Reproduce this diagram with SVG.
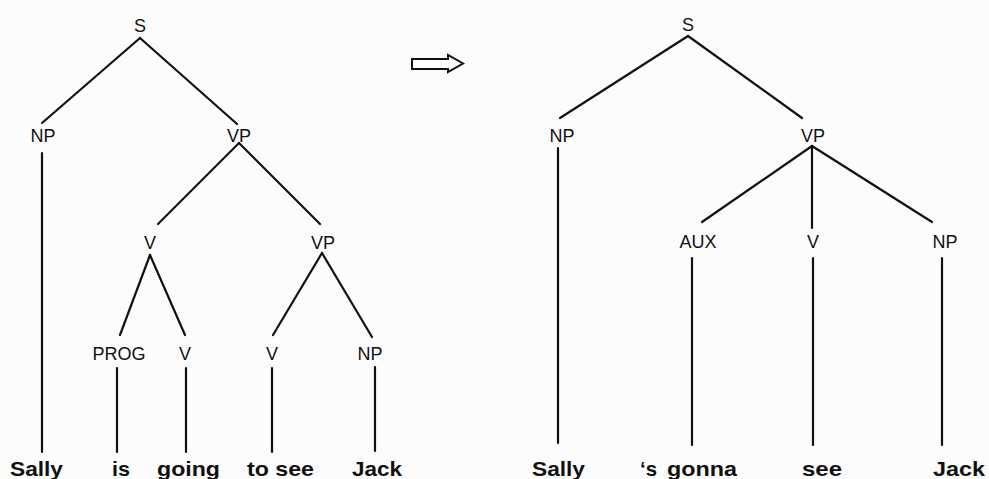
<svg xmlns="http://www.w3.org/2000/svg" width="989" height="479" viewBox="0 0 989 479">
<style>
.lbl{font-family:"Liberation Sans",Arial,sans-serif;font-size:18px;fill:#111;text-anchor:middle}
.wd{font-family:"Liberation Sans",Arial,sans-serif;font-size:21px;font-weight:bold;fill:#111}
.e line{stroke:#111;stroke-width:2.2;stroke-linecap:round}
</style>
<rect width="989" height="479" fill="#fcfcfc"/>
<g id="connectors" class="e">
<line x1="140" y1="38" x2="42" y2="123"/>
<line x1="140" y1="38" x2="237" y2="124"/>
<line x1="42" y1="153" x2="42" y2="452"/>
<line x1="239" y1="143" x2="158" y2="224"/>
<line x1="239" y1="143" x2="320" y2="224"/>
<line x1="150" y1="255" x2="120" y2="335"/>
<line x1="150" y1="255" x2="185" y2="335"/>
<line x1="322" y1="253" x2="273" y2="335"/>
<line x1="322" y1="253" x2="372" y2="337"/>
<line x1="117" y1="368" x2="117" y2="452"/>
<line x1="186" y1="368" x2="186" y2="452"/>
<line x1="272" y1="368" x2="272" y2="452"/>
<line x1="375" y1="367" x2="375" y2="451"/>
<line x1="688" y1="36" x2="560" y2="118"/>
<line x1="688" y1="36" x2="802" y2="118"/>
<line x1="558" y1="148" x2="558" y2="443"/>
<line x1="812" y1="146" x2="702" y2="222"/>
<line x1="812" y1="146" x2="812" y2="228"/>
<line x1="812" y1="146" x2="932" y2="222"/>
<line x1="692" y1="258" x2="692" y2="445"/>
<line x1="813" y1="258" x2="813" y2="445"/>
<line x1="942" y1="258" x2="942" y2="445"/>
</g>
<g id="arrow">
<path d="M412 59 H448 V55 L463 63.5 L448 72 V69 H412 Z" fill="#fff" stroke="#111" stroke-width="2" stroke-linejoin="miter"/>
</g>
<g id="left-tree">
<g id="L-S"><text class="lbl" x="140" y="32">S</text></g>
<g id="L-NP"><text class="lbl" x="43" y="142">NP</text></g>
<g id="L-VP"><text class="lbl" x="239" y="142">VP</text></g>
<g id="L-V"><text class="lbl" x="150" y="249">V</text></g>
<g id="L-VP2"><text class="lbl" x="323" y="249">VP</text></g>
<g id="L-PROG"><text class="lbl" x="119" y="360">PROG</text></g>
<g id="L-V2"><text class="lbl" x="185" y="360">V</text></g>
<g id="L-V3"><text class="lbl" x="272" y="360">V</text></g>
<g id="L-NP2"><text class="lbl" x="370" y="360">NP</text></g>
<g id="L-w1"><text class="wd" x="10" y="476" textLength="53" lengthAdjust="spacingAndGlyphs">Sally</text></g>
<g id="L-w2"><text class="wd" x="112" y="476" textLength="18" lengthAdjust="spacingAndGlyphs">is</text></g>
<g id="L-w3"><text class="wd" x="157" y="476" textLength="63" lengthAdjust="spacingAndGlyphs">going</text></g>
<g id="L-w4"><text class="wd" x="247" y="476" textLength="67" lengthAdjust="spacingAndGlyphs">to see</text></g>
<g id="L-w5"><text class="wd" x="352" y="476" textLength="50" lengthAdjust="spacingAndGlyphs">Jack</text></g>
</g>
<g id="right-tree">
<g id="R-S"><text class="lbl" x="688" y="31">S</text></g>
<g id="R-NP"><text class="lbl" x="562" y="142">NP</text></g>
<g id="R-VP"><text class="lbl" x="813" y="142">VP</text></g>
<g id="R-AUX"><text class="lbl" x="698" y="248">AUX</text></g>
<g id="R-V"><text class="lbl" x="813" y="248">V</text></g>
<g id="R-NP2"><text class="lbl" x="945" y="248">NP</text></g>
<g id="R-w1"><text class="wd" x="532" y="476" textLength="53" lengthAdjust="spacingAndGlyphs">Sally</text></g>
<g id="R-w2"><text class="wd" x="640" y="476" textLength="17" lengthAdjust="spacingAndGlyphs">‘s</text></g>
<g id="R-w3"><text class="wd" x="667" y="476" textLength="70" lengthAdjust="spacingAndGlyphs">gonna</text></g>
<g id="R-w4"><text class="wd" x="802" y="476" textLength="40" lengthAdjust="spacingAndGlyphs">see</text></g>
<g id="R-w5"><text class="wd" x="933" y="476" textLength="52" lengthAdjust="spacingAndGlyphs">Jack</text></g>
</g>
</svg>
